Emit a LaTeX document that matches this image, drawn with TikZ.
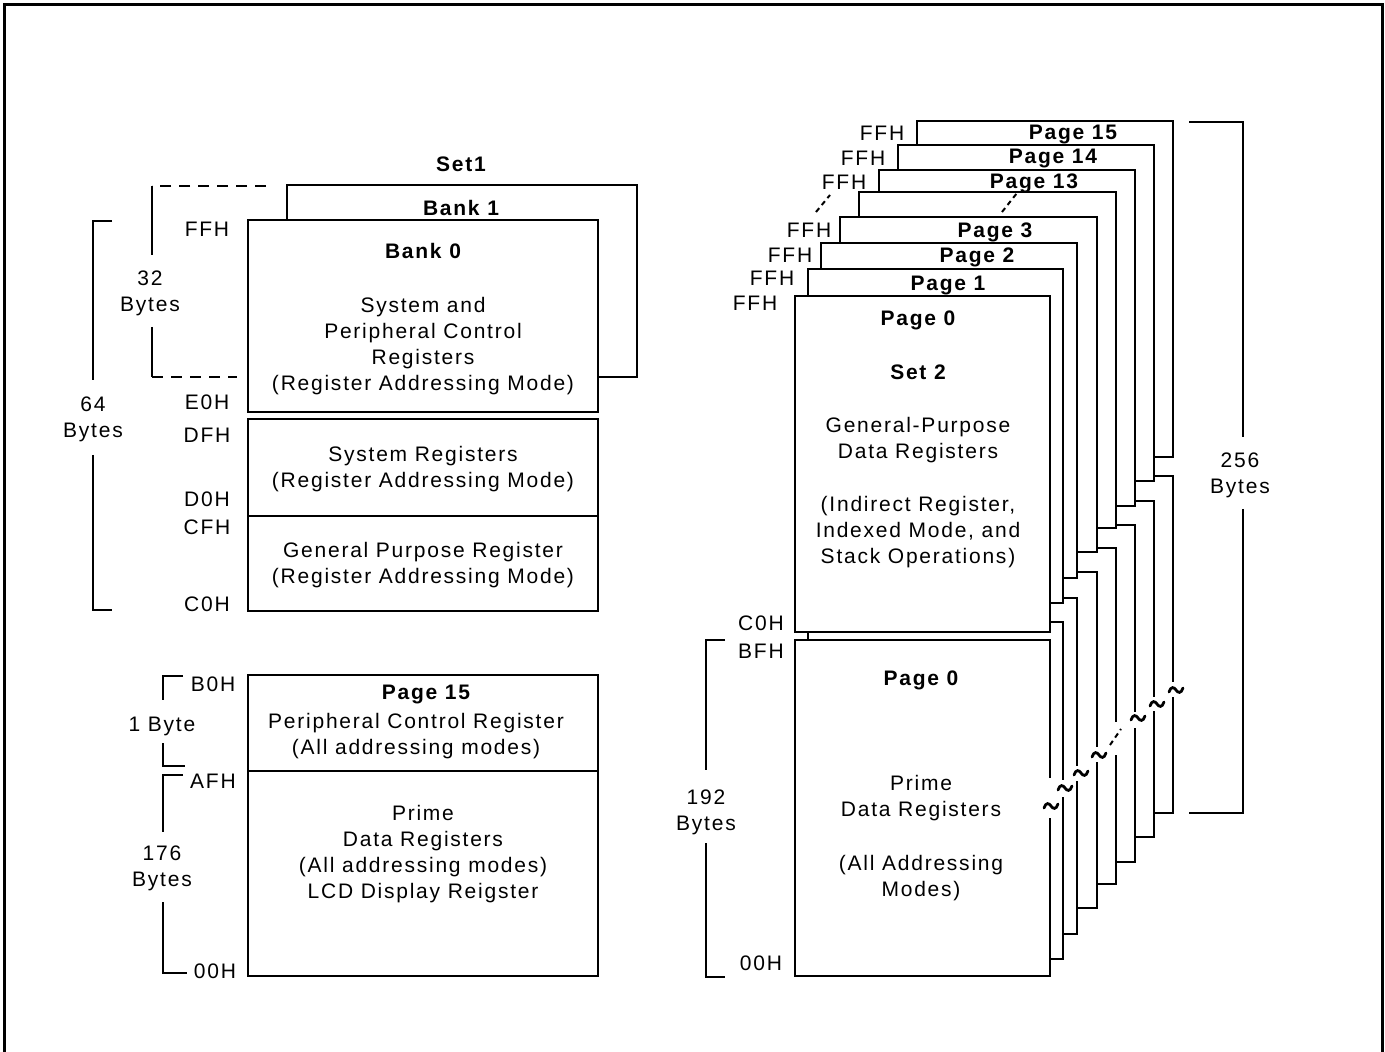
\documentclass[tikz,border=0pt]{standalone}
\usepackage{fontspec}
\setmainfont{Liberation Sans}[LetterSpace=8.4]
\begin{document}
\begin{tikzpicture}[x=0.5pt,y=-0.5pt,line width=1pt,
  boxline/.style={draw=black,fill=white,line width=1pt},
  lbl/.style={inner sep=0pt,align=center,font=\fontsize{10.5}{13}\selectfont},
  blbl/.style={inner sep=0pt,align=center,font=\fontsize{10.5}{13}\selectfont\bfseries},
  bigdash/.style={line width=1pt,dash pattern=on 5.5pt off 4pt},
  smalldash/.style={line width=1pt,dash pattern=on 2.5pt off 2pt},
  tildemark/.style={line width=1.4pt,line cap=round}]
\useasboundingbox (0,0) rectangle (1385,1052);
% outer frame
\draw[line width=1.5pt] (4.7,1100) -- (4.7,4.2) -- (1382.5,4.2) -- (1382.5,1100);

% ---------------- left upper: Set 1 ----------------
\draw[boxline] (287,185) rectangle (637,377);
\draw[boxline] (248,220) rectangle (598,412);
\draw[boxline] (248,419) rectangle (598,611);
\draw (248,516) -- (598,516);
\node[blbl] (set1) at (461,164) {Set1};
\node[blbl] (bank1) at (461,208) {Bank 1};
\node[blbl] (bank0) at (423,251) {Bank 0};
\node[lbl] (b0txt) at (423,346) {System and\\Peripheral Control\\Registers\\(Register Addressing Mode)};
\node[lbl] (systxt) at (423,469) {System Registers\\(Register Addressing Mode)};
\node[lbl] (gptxt) at (423,565) {General Purpose Register\\(Register Addressing Mode)};
\node[lbl] (ffhA) at (207,229) {FFH};
\node[lbl] (e0h) at (207,402) {E0H};
\node[lbl] (dfh) at (207,435) {DFH};
\node[lbl] (d0h) at (207,499) {D0H};
\node[lbl] (cfh) at (207,527) {CFH};
\node[lbl] (c0hA) at (207,604) {C0H};
% 32 bytes bracket
\draw[bigdash] (266,186) -- (152,186);
\draw (152,186) -- (152,255);
\draw (152,327) -- (152,377);
\draw[bigdash] (152,377) -- (237,377);
\node[lbl] (b32) at (150,293) {32\\Bytes};
% 64 bytes bracket
\draw (112,221) -- (93,221) -- (93,380);
\draw (93,455) -- (93,610) -- (112,610);
\node[lbl] (b64) at (93,419) {64\\Bytes};

% ---------------- left lower ----------------
\draw[boxline] (248,675) rectangle (598,976);
\draw (248,771) -- (598,771);
\node[blbl] (p15b) at (426,694) {Page 15};
\node[lbl] (pcr) at (416,736) {Peripheral Control Register\\(All addressing modes)};
\node[lbl] (pdr) at (423,854) {Prime\\Data Registers\\(All addressing modes)\\LCD Display Reigster};
\node[lbl] (b0h) at (213,684) {B0H};
\node[lbl] (afh) at (213,781) {AFH};
\node[lbl] (o0hA) at (215,971) {00H};
\draw (183,676) -- (163,676) -- (163,700);
\draw (163,743) -- (163,766) -- (185,766);
\node[lbl] (b1) at (162,726) {1 Byte};
\draw (183,775) -- (163,775) -- (163,832);
\draw (163,902) -- (163,973) -- (187,973);
\node[lbl] (b176) at (162,868) {176\\Bytes};

% ---------------- right: page stack ----------------
\foreach \l/\r/\ut/\ub/\lt/\lb in {
  917/1173/121/457/476/813,
  898/1154/145/481/501/837,
  879/1135/170/506/525/862,
  859/1116/192/528/548/884,
  840/1097/217/552/572/908,
  821/1077/243/578/598/934,
  808/1063/269/603/622/959,
  795/1050/296/632/640/976}{
  \draw[boxline] (\l,\ut) rectangle (\r,\ub);
  \draw[boxline] (\l,\lt) rectangle (\r,\lb);
}
% break marks
\foreach \lx/\ga/\gb/\tx/\ty in {
  1050/778/818/1051/806,
  1063/780/797/1065/788,
  1077/766/781/1081/773,
  1097/747/762/1099/755,
  1135/712/728/1138/718,
  1154/697/711/1157/704,
  1173/682/697/1176/690}{
  \fill[white] (\lx-3,\ga) rectangle (\lx+3,\gb);
  \draw[tildemark,shift={(\tx,\ty)}] (-7,2) .. controls (-5,-4) and (-2,-3) .. (0,0) .. controls (2,3) and (5,4) .. (7,-2);
}
\fill[white] (1113,722) rectangle (1119,755);
\draw[smalldash] (1110,745) -- (1121,729);
\draw[smalldash] (816,212) -- (830,195);
\draw[smalldash] (1002,212) -- (1017,193);

\node[lbl] (ff15) at (882,133) {FFH};
\node[lbl] (ff14) at (863,158) {FFH};
\node[lbl] (ff13) at (844,182) {FFH};
\node[lbl] (ff3) at (809,230) {FFH};
\node[lbl] (ff2) at (790,255) {FFH};
\node[lbl] (ff1) at (772,278) {FFH};
\node[lbl] (ff0) at (755,303) {FFH};
\node[blbl] (pg15) at (1073,135) {Page 15};
\node[blbl] (pg14) at (1053,159) {Page 14};
\node[blbl] (pg13) at (1034,183) {Page 13};
\node[blbl] (pg3) at (995,232) {Page 3};
\node[blbl] (pg2) at (977,257) {Page 2};
\node[blbl] (pg1) at (948,286) {Page 1};
\node[blbl] (pg0) at (918,320) {Page 0};
\node[blbl] (set2) at (918,372) {Set 2};
\node[lbl] (gpd) at (918,440) {General-Purpose\\Data Registers};
\node[lbl] (ind) at (918,532) {(Indirect Register,\\Indexed Mode, and\\Stack Operations)};
\node[lbl] (c0hB) at (761,623) {C0H};
\node[lbl] (bfh) at (761,651) {BFH};
\node[lbl] (o0hB) at (761,963) {00H};
\node[blbl] (pg0b) at (921,680) {Page 0};
\node[lbl] (prime) at (921,798) {Prime\\Data Registers};
\node[lbl] (alladdr) at (921,878) {(All Addressing\\Modes)};
\draw (725,640) -- (706,640) -- (706,770);
\draw (706,843) -- (706,977) -- (725,977);
\node[lbl] (b192) at (706,812) {192\\Bytes};
\draw (1189,122) -- (1243,122) -- (1243,437);
\draw (1243,509) -- (1243,813) -- (1189,813);
\node[lbl] (b256) at (1240,475) {256\\Bytes};
\end{tikzpicture}
\end{document}
